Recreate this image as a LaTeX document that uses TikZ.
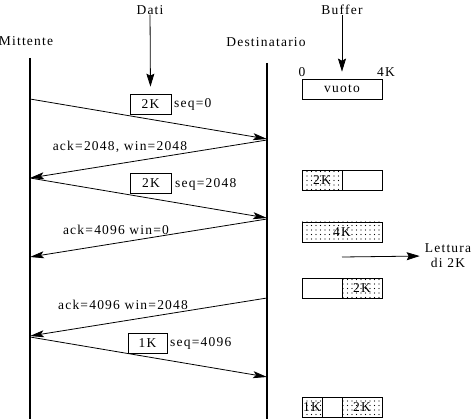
\documentclass[tikz,border=0pt]{standalone}
\usepackage{fontspec}
\setmainfont{Liberation Serif}[LetterSpace=9]
\usetikzlibrary{arrows.meta,patterns}
\pgfdeclarepatternformonly{sparsedots}{\pgfqpoint{-1pt}{-1pt}}{\pgfqpoint{5pt}{5pt}}{\pgfqpoint{4.5pt}{4.5pt}}{%
  \pgfpathcircle{\pgfqpoint{1pt}{1pt}}{0.55pt}\pgfusepath{fill}}
\begin{document}
\begin{tikzpicture}[x=1pt,y=-1pt,
  lbl/.style={font=\fontsize{13.5}{15}\selectfont, inner sep=0pt},
  life/.style={line width=1.8pt},
  msg/.style={line width=0.8pt, -{Stealth[length=14pt,width=7pt,inset=3pt]}},
  pkt/.style={draw, line width=0.7pt, minimum width=41pt, minimum height=20pt, inner sep=0pt, font=\fontsize{13.5}{15}\selectfont, fill=white},
  buf/.style={draw, line width=0.7pt, minimum height=20pt, inner sep=0pt, font=\fontsize{13.5}{15}\selectfont},
  full/.style={pattern=sparsedots},
  feed/.style={line width=0.8pt, -{Stealth[length=13pt,width=8pt,inset=2pt]}}]
\useasboundingbox (0,0) rectangle (475,420);
% headings
\node[lbl] (mitt) at (26,41) {Mittente};
\node[lbl] (dest) at (266,42) {Destinatario};
\node[lbl] (dati) at (150,10) {Dati};
\node[lbl] (bufl) at (342,10) {Buffer};
% lifelines
\coordinate (sTop) at (30,58);
\coordinate (sBot) at (30,419);
\coordinate (rTop) at (267,63);
\coordinate (rBot) at (267,419);
\draw[life] (sTop) -- (sBot);
\draw[life] (rTop) -- (rBot);
% message points
\coordinate (s1) at (30,99);   \coordinate (r1) at (267,139);
\coordinate (r2) at (267,140); \coordinate (s2) at (30,178);
\coordinate (s3) at (30,178);  \coordinate (r3) at (267,218);
\coordinate (r4) at (267,219); \coordinate (s4) at (30,257);
\coordinate (r5) at (267,298); \coordinate (s5) at (30,336);
\coordinate (s6) at (30,337);  \coordinate (r6) at (267,377);
\draw[msg] (s1) -- (r1);
\draw[msg] (r2) -- (s2);
\draw[msg] (s3) -- (r3);
\draw[msg] (r4) -- (s4);
\draw[msg] (r5) -- (s5);
\draw[msg] (s6) -- (r6);
% packets
\node[pkt] (p1) at (150.5,104) {2K};
\node[lbl, anchor=west] (q1) at (174,104) {seq=0};
\node[pkt] (p2) at (151,183.5) {2K};
\node[lbl, anchor=west] (q2) at (175,184) {seq=2048};
\node[pkt, minimum width=39pt] (p3) at (147.5,343.5) {1K};
\node[lbl, anchor=west] (q3) at (170,343) {seq=4096};
% ack labels
\node[lbl] (a1) at (120,147) {ack=2048, win=2048};
\node[lbl] (a2) at (116,230) {ack=4096 win=0};
\node[lbl] (a3) at (123,305) {ack=4096 win=2048};
% feeding arrows
\draw[feed] (dati) -- (p1.north) [shorten >=7pt];
% buffer states
\node[lbl] (zero) at (302,72) {0};
\node[lbl] (fourk) at (386,72) {4K};
\node[buf, minimum width=80pt] (b0) at (342,89) {vuoto};
\draw[feed] (bufl) -- (b0.north) [shorten >=7pt];
\node[buf, full, minimum width=40pt] (b1a) at (322,180) {2K};
\node[buf, minimum width=40pt] (b1b) at (362,180) {};
\node[buf, full, minimum width=80pt] (b2) at (342,232) {4K};
\node[buf, minimum width=40pt] (b3a) at (322,288) {};
\node[buf, full, minimum width=40pt] (b3b) at (362,288) {2K};
\node[buf, full, minimum width=20pt] (b4a) at (312,407) {1K};
\node[buf, minimum width=20pt] (b4b) at (332,407) {};
\node[buf, full, minimum width=40pt] (b4c) at (362,407) {2K};
% reading
\coordinate (rd) at (342,257);
\node[lbl, align=center] (lett) at (448,256) {Lettura\\di 2K};
\draw[feed] (rd) -- (lett.west) [shorten >=5pt];
\end{tikzpicture}
\end{document}
